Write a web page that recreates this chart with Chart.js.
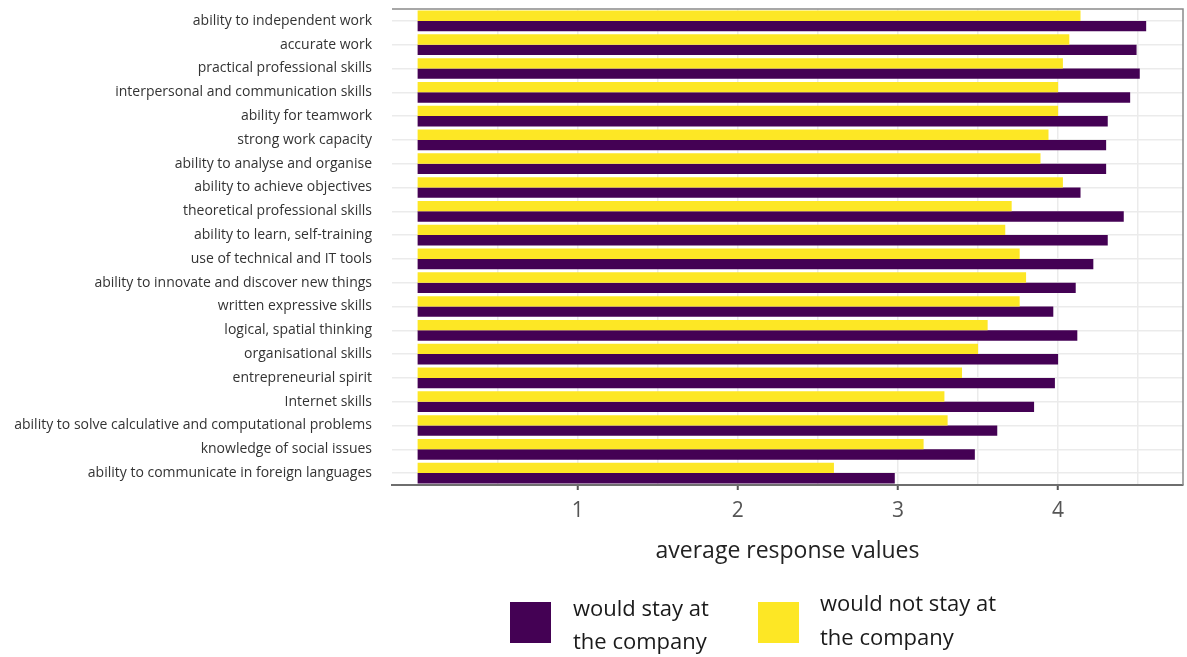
<!DOCTYPE html>
<html>
<head>
<meta charset="utf-8">
<title>Skills by intention to stay</title>
<script src="https://cdn.jsdelivr.net/npm/chart.js@4.4.0/dist/chart.umd.min.js"></script>
<style>
  html, body { margin: 0; padding: 0; background: #fff; }
  #wrap { width: 1187px; height: 657px; position: relative; }
</style>
</head>
<body>
<div id="wrap"><canvas id="skillsChart"></canvas></div>
<script>
// Data
const skills = [
    'ability to independent work',
    'accurate work',
    'practical professional skills',
    'interpersonal and communication skills',
    'ability for teamwork',
    'strong work capacity',
    'ability to analyse and organise',
    'ability to achieve objectives',
    'theoretical professional skills',
    'ability to learn, self-training',
    'use of technical and IT tools',
    'ability to innovate and discover new things',
    'written expressive skills',
    'logical, spatial thinking',
    'organisational skills',
    'entrepreneurial spirit',
    'Internet skills',
    'ability to solve calculative and computational problems',
    'knowledge of social issues',
    'ability to communicate in foreign languages'
];
const stayValues = [4.55, 4.49, 4.51, 4.45, 4.31, 4.30, 4.30, 4.14, 4.41, 4.31,
                    4.22, 4.11, 3.97, 4.12, 4.00, 3.98, 3.85, 3.62, 3.48, 2.98];
const leaveValues = [4.14, 4.07, 4.03, 4.00, 4.00, 3.94, 3.89, 4.03, 3.71, 3.67,
                     3.76, 3.80, 3.76, 3.56, 3.50, 3.40, 3.29, 3.31, 3.16, 2.60];
const stayName = ['would stay at', 'the company'];
const leaveName = ['would not stay at', 'the company'];
const gridValues = [0.5, 1, 1.5, 2, 2.5, 3, 3.5, 4, 4.5];
const tickLabels = [1, 2, 3, 4];

const PURPLE = '#440154';
const YELLOW = '#FDE725';
const FONT = "'Open Sans', 'DejaVu Sans', sans-serif";

// top + right frame lines (ggplot theme_bw style panel border)
const panelBorder = {
    id: 'panelBorder',
    afterDatasetsDraw(chart) {
        const { ctx, chartArea: a } = chart;
        ctx.save();
        ctx.strokeStyle = '#8a8a8a';
        ctx.lineWidth = 1.5;
        ctx.beginPath();
        ctx.moveTo(a.left, a.top);
        ctx.lineTo(a.right, a.top);
        ctx.lineTo(a.right, a.bottom);
        ctx.stroke();
        ctx.restore();
    }
};

// legend below the axis title, two-line labels
const bottomLegend = {
    id: 'bottomLegend',
    afterDraw(chart) {
        const ctx = chart.ctx;
        const items = [
            { ds: 1, lines: stayName, box: 510, boxTop: 602, textX: 573, ys: [610, 643] },
            { ds: 0, lines: leaveName, box: 758, boxTop: 602, textX: 820, ys: [605, 639] }
        ];
        ctx.save();
        ctx.font = '22px ' + FONT;
        ctx.textBaseline = 'middle';
        ctx.textAlign = 'left';
        items.forEach(it => {
            ctx.fillStyle = chart.data.datasets[it.ds].backgroundColor;
            ctx.fillRect(it.box, it.boxTop, 41, 41);
            ctx.fillStyle = '#1a1a1a';
            it.lines.forEach((line, i) => ctx.fillText(line, it.textX, it.ys[i]));
        });
        ctx.restore();
    }
};

const ctx = document.getElementById('skillsChart').getContext('2d');
const skillsChart = new Chart(ctx, {
    type: 'bar',
    data: {
        labels: skills,
        datasets: [
            {
                label: leaveName.join(' '),
                data: leaveValues,
                backgroundColor: YELLOW
            },
            {
                label: stayName.join(' '),
                data: stayValues,
                backgroundColor: PURPLE
            }
        ]
    },
    options: {
        indexAxis: 'y',
        responsive: true,
        maintainAspectRatio: false,
        animation: false,
        categoryPercentage: 0.87,
        barPercentage: 1,
        layout: { padding: { top: 9, right: 4, left: 0, bottom: 0 } },
        plugins: {
            legend: { display: false },
            tooltip: { enabled: false }
        },
        scales: {
            y: {
                type: 'category',
                grid: { offset: false, color: '#ebebeb', lineWidth: 1.5, drawTicks: false },
                border: { display: false },
                ticks: { padding: 20, color: '#333', font: { family: FONT, size: 14 } },
                afterFit: s => {
                    s.width = 392;
                    // the label padding would otherwise push the panel down
                    s.paddingTop = 0;
                    s.paddingBottom = 0;
                }
            },
            x: {
                type: 'linear',
                position: 'bottom',
                min: -0.16,
                max: 4.78,
                afterBuildTicks: s => { s.ticks = gridValues.map(v => ({ value: v })); },
                grid: {
                    color: '#ebebeb',
                    lineWidth: 1.5,
                    tickLength: 5,
                    tickWidth: 2,
                    tickColor: c => tickLabels.includes(c.tick && c.tick.value) ? '#555' : 'rgba(0,0,0,0)'
                },
                border: { color: '#6e6e6e', width: 2 },
                ticks: {
                    autoSkip: false,
                    maxRotation: 0,
                    padding: 8,
                    color: '#555',
                    font: { family: FONT, size: 21 },
                    callback: v => tickLabels.includes(v) ? String(v) : ''
                },
                title: {
                    display: true,
                    text: 'average response values',
                    color: '#222',
                    font: { family: FONT, size: 23 },
                    padding: { top: 0, bottom: 92 }
                },
                afterFit: s => { s.height = 172; }
            }
        }
    },
    plugins: [panelBorder, bottomLegend]
});
</script>
</body>
</html>
